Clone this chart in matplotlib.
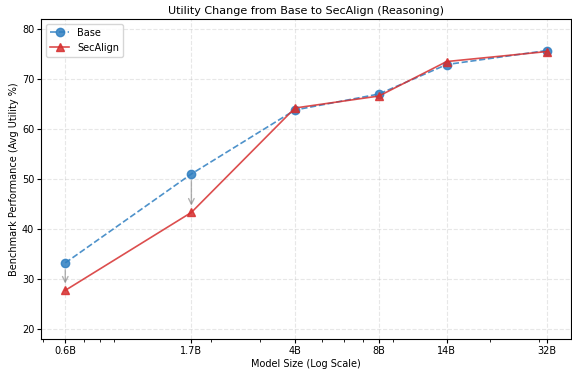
import matplotlib
import matplotlib.pyplot as plt
import numpy as np

matplotlib.use("Agg")

sizes = [0.6, 1.7, 4, 8, 14, 32]
size_labels = ["0.6B", "1.7B", "4B", "8B", "14B", "32B"]
base_util = [33.2, 51.0, 63.8, 67.0, 72.9, 75.7]
secalign_util = [27.7, 43.3, 64.2, 66.6, 73.5, 75.5]

fig, ax = plt.subplots(figsize=(5.72, 3.74), dpi=100)

ax.plot(sizes, base_util, "o--", color="#2f7fc1", alpha=0.85, linewidth=1.2,
        markersize=6, label="Base")
ax.plot(sizes, secalign_util, "^-", color="#d62f2f", alpha=0.85, linewidth=1.2,
        markersize=6, label="SecAlign")

# arrows where the drop is noticeable
for x, b, s in zip(sizes, base_util, secalign_util):
    if b - s > 3:
        ax.annotate("", xy=(x, s + 0.8), xytext=(x, b - 0.8),
                    arrowprops=dict(arrowstyle="->", color="gray", alpha=0.6, lw=1.0))

ax.set_xscale("log")
ax.set_xticks(sizes)
ax.set_xticklabels(size_labels)
ax.set_ylim(18, 82)
ax.set_yticks([20, 30, 40, 50, 60, 70, 80])
ax.tick_params(labelsize=7, length=3, pad=2)
ax.tick_params(which="minor", length=2)

ax.set_title("Utility Change from Base to SecAlign (Reasoning)", fontsize=8, pad=4)
ax.set_xlabel("Model Size (Log Scale)", fontsize=7, labelpad=2)
ax.set_ylabel("Benchmark Performance (Avg Utility %)", fontsize=7, labelpad=2)
ax.grid(True, which="major", linestyle="--", alpha=0.3)
ax.legend(fontsize=7, loc="upper left")

plt.subplots_adjust(left=0.072, right=0.998, top=0.949, bottom=0.094)
plt.savefig("out.png", dpi=100)
